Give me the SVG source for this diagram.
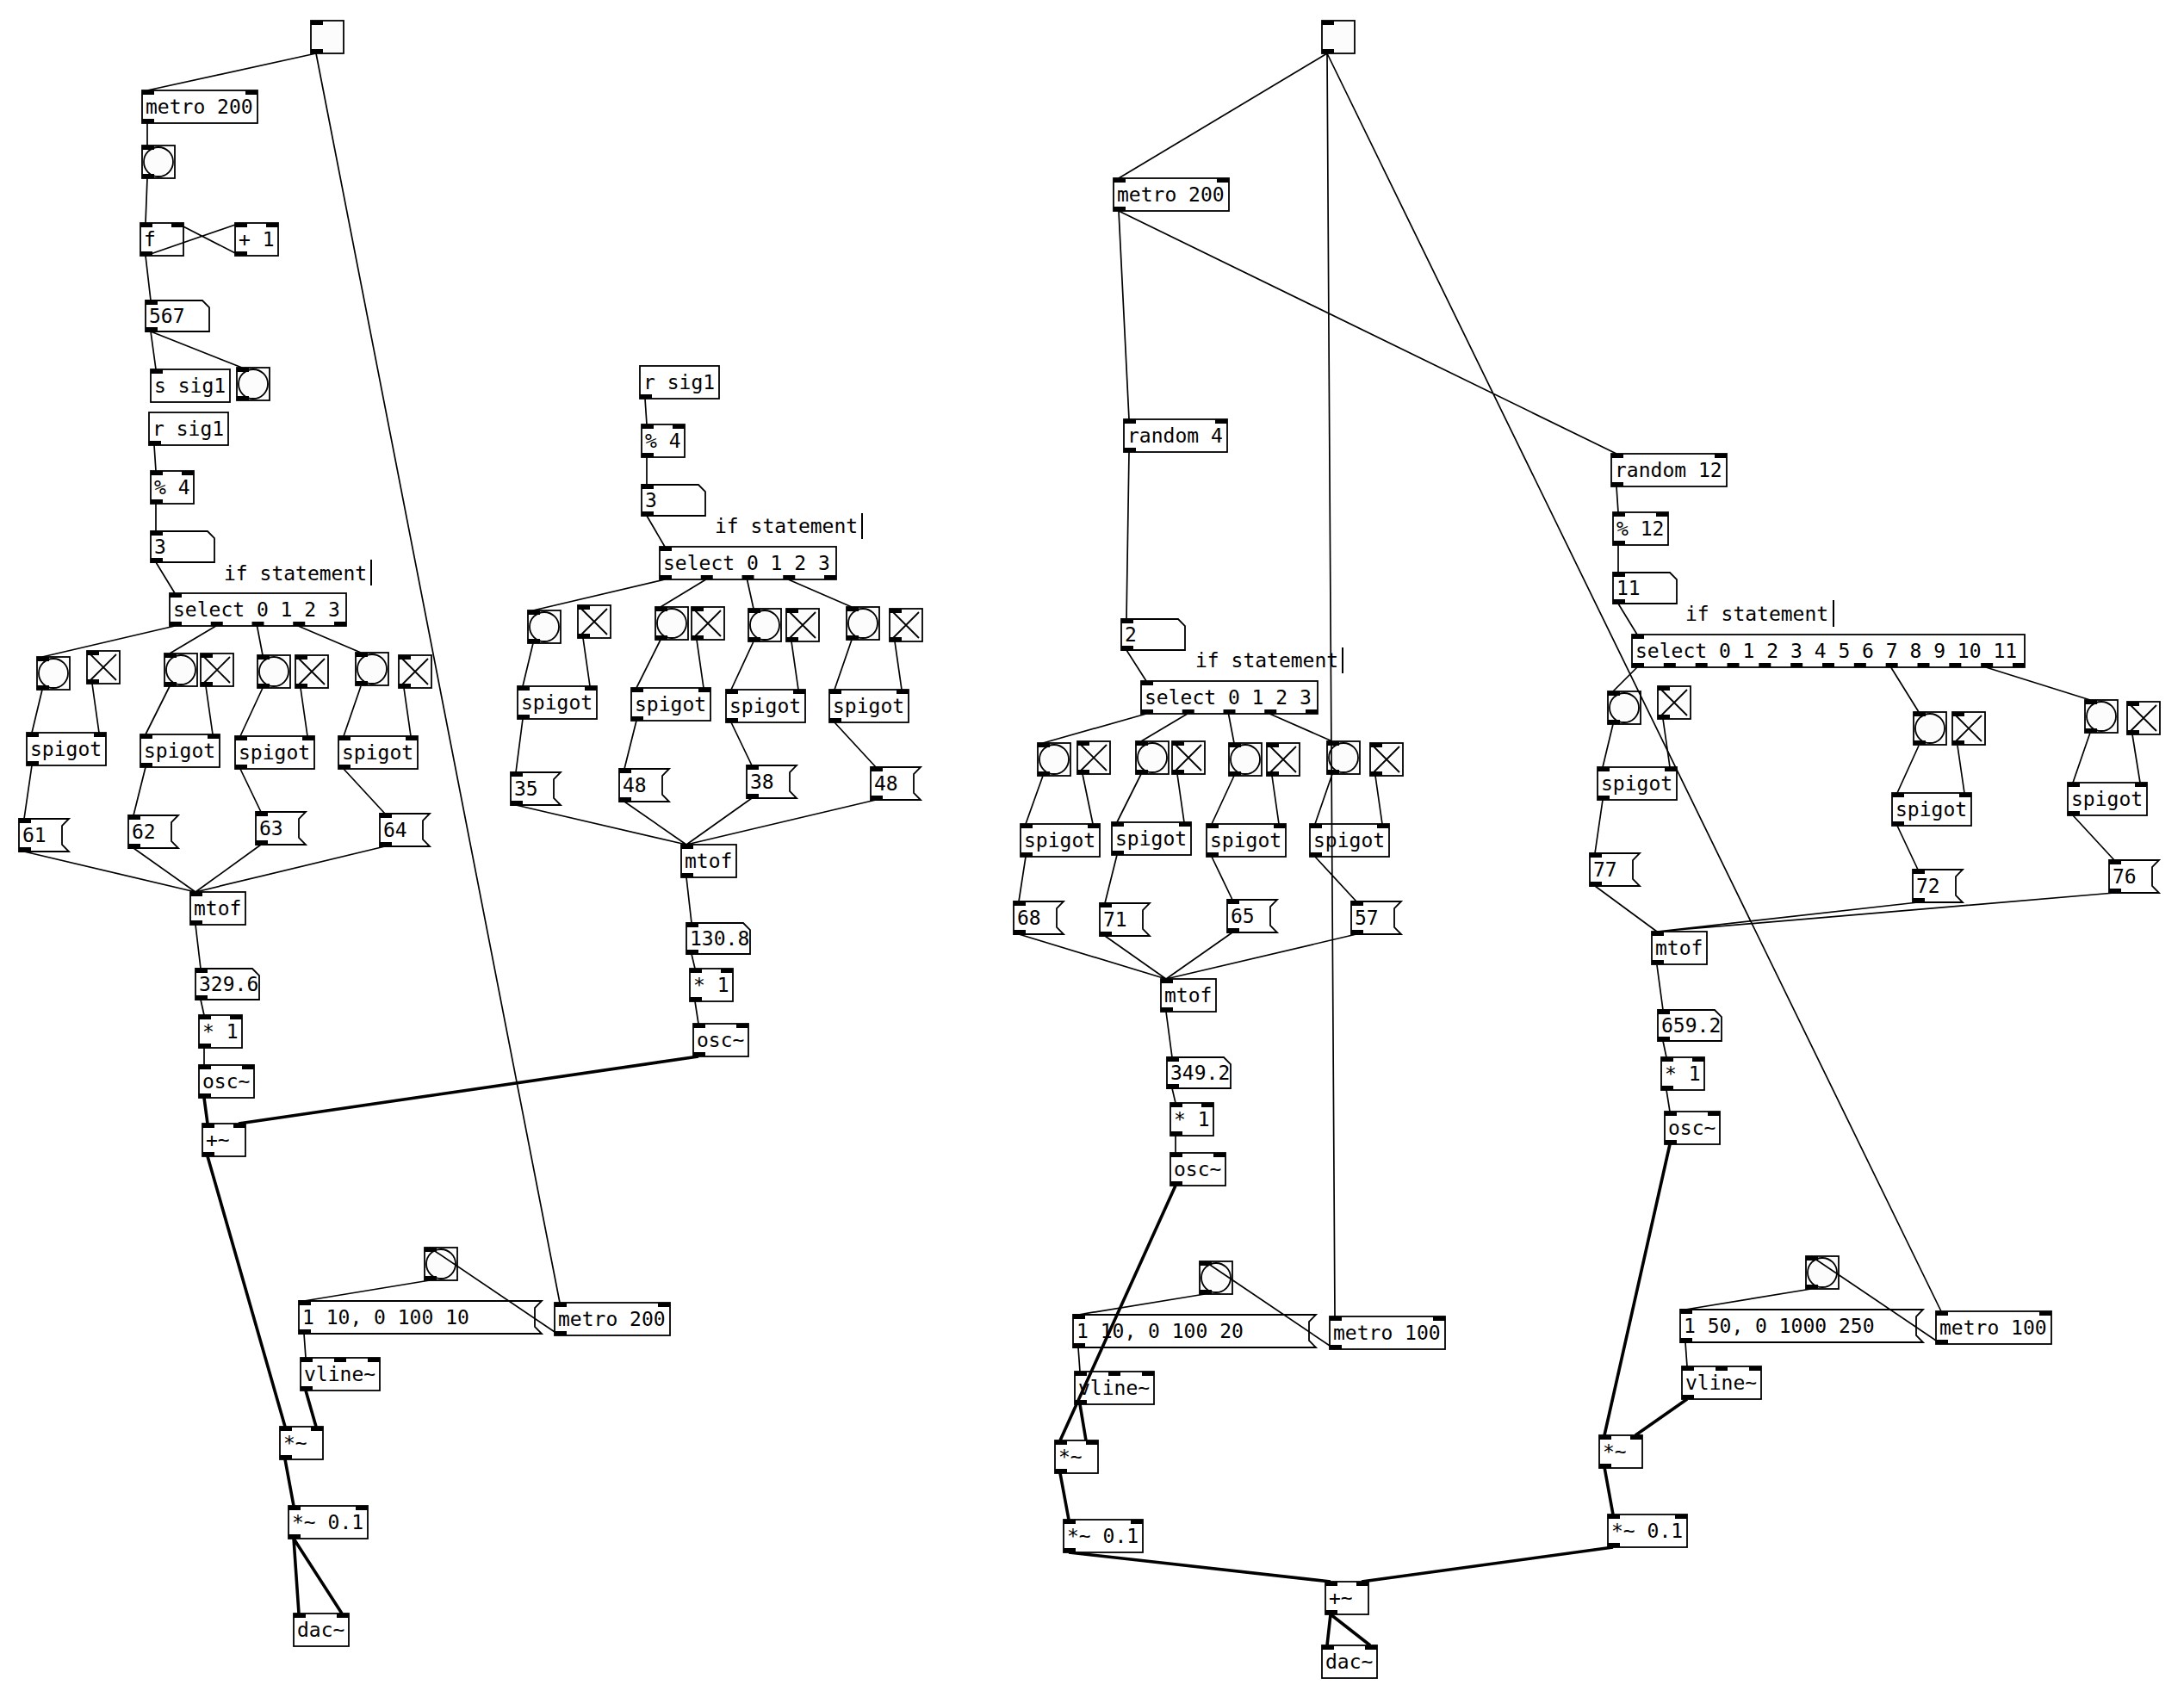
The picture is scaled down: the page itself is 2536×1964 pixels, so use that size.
<svg xmlns="http://www.w3.org/2000/svg" width="2536" height="1964" viewBox="0 0 2536 1964">
<style>
.b{fill:#fff;stroke:#000;stroke-width:1.8}
.g{fill:#fcfcfc;stroke:#000;stroke-width:1.8}
.io{fill:#000}
.t{font-family:"DejaVu Sans Mono","Liberation Mono",monospace;font-size:23px;fill:#000}
.w{fill:none;stroke:#000;stroke-width:1.7}
.sg{fill:none;stroke:#000;stroke-width:3.6}
.bar{stroke:#000;stroke-width:2}
</style>
<defs>
<rect id="io" class="io" width="14" height="5"/>
<g id="bng"><rect class="g" width="38" height="38"/><circle class="g" cx="19" cy="19" r="17"/><use href="#io"/><use href="#io" y="33"/></g>
<g id="tgl"><rect class="g" width="38" height="38"/><path d="M4,4L34,34M34,4L4,34" stroke="#000" stroke-width="1.8"/><use href="#io"/><use href="#io" y="33"/></g>
<g id="tgl0"><rect class="g" width="38" height="38"/><use href="#io"/><use href="#io" y="33"/></g>
<g id="atom"><path class="b" d="M0,0H66L74,8V36H0Z"/><use href="#io"/><use href="#io" y="31"/></g>
<g id="msgS"><path class="b" d="M0,0H58L50,8V30L58,38H0Z"/><use href="#io"/><use href="#io" y="33"/></g>
<g id="msgL"><path class="b" d="M0,0H282L274,8V30L282,38H0Z"/><use href="#io"/><use href="#io" y="33"/></g>
<g id="spig"><rect class="b" width="92" height="38"/><use href="#io"/><use href="#io" x="78"/><use href="#io" y="33"/><text class="t" x="4" y="27">spigot</text></g>
</defs>

<!-- ===== Section A ===== -->
<g id="toggle_a_top"><use href="#tgl0" x="361" y="24"/></g>
<g id="metro_a" transform="translate(165,105)"><rect class="b" width="134" height="38"/><use href="#io"/><use href="#io" x="120"/><use href="#io" y="33"/><text class="t" x="4" y="27">metro 200</text></g>
<g id="bang_a0"><use href="#bng" x="165" y="169"/></g>
<g id="f_a" transform="translate(163,259)"><rect class="b" width="50" height="38"/><use href="#io"/><use href="#io" x="36"/><use href="#io" y="33"/><text class="t" x="4" y="27">f</text></g>
<g id="plus_a" transform="translate(273,259)"><rect class="b" width="50" height="38"/><use href="#io"/><use href="#io" x="36"/><use href="#io" y="33"/><text class="t" x="4" y="27">+ 1</text></g>
<g id="num_a567" transform="translate(169,349)"><use href="#atom"/><text class="t" x="4" y="26">567</text></g>
<g id="send_a" transform="translate(175,429)"><rect class="b" width="92" height="38"/><use href="#io"/><text class="t" x="4" y="27">s sig1</text></g>
<g id="bang_as"><use href="#bng" x="275" y="427"/></g>
<g id="recv_a" transform="translate(173,479)"><rect class="b" width="92" height="38"/><use href="#io" y="33"/><text class="t" x="4" y="27">r sig1</text></g>
<g id="mod_a" transform="translate(175,547)"><rect class="b" width="50" height="38"/><use href="#io"/><use href="#io" x="36"/><use href="#io" y="33"/><text class="t" x="4" y="27">% 4</text></g>
<g id="num_a3" transform="translate(175,617)"><use href="#atom"/><text class="t" x="4" y="26">3</text></g>
<g id="comment_a"><text class="t" x="260" y="674">if statement</text><line class="bar" x1="431" y1="650" x2="431" y2="680"/></g>
<g id="sel_a" transform="translate(197,689)"><rect class="b" width="205" height="38"/><use href="#io"/><use href="#io" y="33"/><use href="#io" x="47.75" y="33"/><use href="#io" x="95.5" y="33"/><use href="#io" x="143.25" y="33"/><use href="#io" x="191" y="33"/><text class="t" x="4" y="27">select 0 1 2 3</text></g>
<g id="bang_a1"><use href="#bng" x="43" y="763"/></g>
<g id="tgl_a1"><use href="#tgl" x="101" y="756"/></g>
<g id="bang_a2"><use href="#bng" x="191" y="759"/></g>
<g id="tgl_a2"><use href="#tgl" x="233" y="759"/></g>
<g id="bang_a3"><use href="#bng" x="299" y="761"/></g>
<g id="tgl_a3"><use href="#tgl" x="343" y="761"/></g>
<g id="bang_a4"><use href="#bng" x="413" y="758"/></g>
<g id="tgl_a4"><use href="#tgl" x="463" y="761"/></g>
<g id="spig_a1"><use href="#spig" x="31" y="851"/></g>
<g id="spig_a2"><use href="#spig" x="163" y="853"/></g>
<g id="spig_a3"><use href="#spig" x="273" y="855"/></g>
<g id="spig_a4"><use href="#spig" x="393" y="855"/></g>
<g id="msg_a61" transform="translate(22,951)"><use href="#msgS"/><text class="t" x="4" y="27">61</text></g>
<g id="msg_a62" transform="translate(149,947)"><use href="#msgS"/><text class="t" x="4" y="27">62</text></g>
<g id="msg_a63" transform="translate(297,943)"><use href="#msgS"/><text class="t" x="4" y="27">63</text></g>
<g id="msg_a64" transform="translate(441,945)"><use href="#msgS"/><text class="t" x="4" y="27">64</text></g>
<g id="mtof_a" transform="translate(221,1036)"><rect class="b" width="64" height="38"/><use href="#io"/><use href="#io" y="33"/><text class="t" x="4" y="27">mtof</text></g>
<g id="num_a329" transform="translate(227,1125)"><use href="#atom"/><text class="t" x="4" y="26">329.6</text></g>
<g id="mul_a" transform="translate(231,1179)"><rect class="b" width="50" height="38"/><use href="#io"/><use href="#io" x="36"/><use href="#io" y="33"/><text class="t" x="4" y="27">* 1</text></g>
<g id="osc_a" transform="translate(231,1237)"><rect class="b" width="64" height="38"/><use href="#io"/><use href="#io" x="50"/><use href="#io" y="33"/><text class="t" x="4" y="27">osc~</text></g>
<g id="add_a" transform="translate(235,1305)"><rect class="b" width="50" height="38"/><use href="#io"/><use href="#io" x="36"/><use href="#io" y="33"/><text class="t" x="4" y="27">+~</text></g>
<g id="bang_ab"><use href="#bng" x="493" y="1449"/></g>
<g id="msg_aenv" transform="translate(347,1511)"><use href="#msgL"/><text class="t" x="4" y="27">1 10, 0 100 10</text></g>
<g id="metro_ab" transform="translate(644,1513)"><rect class="b" width="134" height="38"/><use href="#io"/><use href="#io" x="120"/><use href="#io" y="33"/><text class="t" x="4" y="27">metro 200</text></g>
<g id="vline_a" transform="translate(349,1577)"><rect class="b" width="92" height="38"/><use href="#io"/><use href="#io" x="39"/><use href="#io" x="78"/><use href="#io" y="33"/><text class="t" x="4" y="27">vline~</text></g>
<g id="mulsig_a" transform="translate(325,1657)"><rect class="b" width="50" height="38"/><use href="#io"/><use href="#io" x="36"/><use href="#io" y="33"/><text class="t" x="4" y="27">*~</text></g>
<g id="mul01_a" transform="translate(335,1749)"><rect class="b" width="92" height="38"/><use href="#io"/><use href="#io" x="78"/><use href="#io" y="33"/><text class="t" x="4" y="27">*~ 0.1</text></g>
<g id="dac_a" transform="translate(341,1874)"><rect class="b" width="64" height="38"/><use href="#io"/><use href="#io" x="50"/><text class="t" x="4" y="27">dac~</text></g>

<!-- ===== Section B ===== -->
<g id="recv_b" transform="translate(743,425)"><rect class="b" width="92" height="38"/><use href="#io" y="33"/><text class="t" x="4" y="27">r sig1</text></g>
<g id="mod_b" transform="translate(745,493)"><rect class="b" width="50" height="38"/><use href="#io"/><use href="#io" x="36"/><use href="#io" y="33"/><text class="t" x="4" y="27">% 4</text></g>
<g id="num_b3" transform="translate(745,563)"><use href="#atom"/><text class="t" x="4" y="26">3</text></g>
<g id="comment_b"><text class="t" x="830" y="619">if statement</text><line class="bar" x1="1001" y1="596" x2="1001" y2="626"/></g>
<g id="sel_b" transform="translate(766,635)"><rect class="b" width="205" height="38"/><use href="#io"/><use href="#io" y="33"/><use href="#io" x="47.75" y="33"/><use href="#io" x="95.5" y="33"/><use href="#io" x="143.25" y="33"/><use href="#io" x="191" y="33"/><text class="t" x="4" y="27">select 0 1 2 3</text></g>
<g id="bang_b1"><use href="#bng" x="613" y="709"/></g>
<g id="tgl_b1"><use href="#tgl" x="671" y="703"/></g>
<g id="bang_b2"><use href="#bng" x="761" y="705"/></g>
<g id="tgl_b2"><use href="#tgl" x="803" y="705"/></g>
<g id="bang_b3"><use href="#bng" x="869" y="707"/></g>
<g id="tgl_b3"><use href="#tgl" x="913" y="707"/></g>
<g id="bang_b4"><use href="#bng" x="983" y="705"/></g>
<g id="tgl_b4"><use href="#tgl" x="1033" y="707"/></g>
<g id="spig_b1"><use href="#spig" x="601" y="797"/></g>
<g id="spig_b2"><use href="#spig" x="733" y="799"/></g>
<g id="spig_b3"><use href="#spig" x="843" y="801"/></g>
<g id="spig_b4"><use href="#spig" x="963" y="801"/></g>
<g id="msg_b35" transform="translate(593,897)"><use href="#msgS"/><text class="t" x="4" y="27">35</text></g>
<g id="msg_b48" transform="translate(719,893)"><use href="#msgS"/><text class="t" x="4" y="27">48</text></g>
<g id="msg_b38" transform="translate(867,889)"><use href="#msgS"/><text class="t" x="4" y="27">38</text></g>
<g id="msg_b48b" transform="translate(1011,891)"><use href="#msgS"/><text class="t" x="4" y="27">48</text></g>
<g id="mtof_b" transform="translate(791,981)"><rect class="b" width="64" height="38"/><use href="#io"/><use href="#io" y="33"/><text class="t" x="4" y="27">mtof</text></g>
<g id="num_b130" transform="translate(797,1072)"><use href="#atom"/><text class="t" x="4" y="26">130.8</text></g>
<g id="mul_b" transform="translate(801,1125)"><rect class="b" width="50" height="38"/><use href="#io"/><use href="#io" x="36"/><use href="#io" y="33"/><text class="t" x="4" y="27">* 1</text></g>
<g id="osc_b" transform="translate(805,1189)"><rect class="b" width="64" height="38"/><use href="#io"/><use href="#io" x="50"/><use href="#io" y="33"/><text class="t" x="4" y="27">osc~</text></g>

<!-- ===== Section C ===== -->
<g id="toggle_c_top"><use href="#tgl0" x="1535" y="24"/></g>
<g id="metro_c" transform="translate(1293,207)"><rect class="b" width="134" height="38"/><use href="#io"/><use href="#io" x="120"/><use href="#io" y="33"/><text class="t" x="4" y="27">metro 200</text></g>
<g id="random_4" transform="translate(1305,487)"><rect class="b" width="120" height="38"/><use href="#io"/><use href="#io" x="106"/><use href="#io" y="33"/><text class="t" x="4" y="27">random 4</text></g>
<g id="num_c2" transform="translate(1302,719)"><use href="#atom"/><text class="t" x="4" y="26">2</text></g>
<g id="comment_c"><text class="t" x="1388" y="775">if statement</text><line class="bar" x1="1559" y1="752" x2="1559" y2="782"/></g>
<g id="sel_c" transform="translate(1325,791)"><rect class="b" width="205" height="38"/><use href="#io"/><use href="#io" y="33"/><use href="#io" x="47.75" y="33"/><use href="#io" x="95.5" y="33"/><use href="#io" x="143.25" y="33"/><use href="#io" x="191" y="33"/><text class="t" x="4" y="27">select 0 1 2 3</text></g>
<g id="bang_c1"><use href="#bng" x="1205" y="863"/></g>
<g id="tgl_c1"><use href="#tgl" x="1251" y="861"/></g>
<g id="bang_c2"><use href="#bng" x="1319" y="861"/></g>
<g id="tgl_c2"><use href="#tgl" x="1361" y="861"/></g>
<g id="bang_c3"><use href="#bng" x="1427" y="863"/></g>
<g id="tgl_c3"><use href="#tgl" x="1471" y="863"/></g>
<g id="bang_c4"><use href="#bng" x="1541" y="861"/></g>
<g id="tgl_c4"><use href="#tgl" x="1591" y="863"/></g>
<g id="spig_c1"><use href="#spig" x="1185" y="957"/></g>
<g id="spig_c2"><use href="#spig" x="1291" y="955"/></g>
<g id="spig_c3"><use href="#spig" x="1401" y="957"/></g>
<g id="spig_c4"><use href="#spig" x="1521" y="957"/></g>
<g id="msg_c68" transform="translate(1177,1047)"><use href="#msgS"/><text class="t" x="4" y="27">68</text></g>
<g id="msg_c71" transform="translate(1277,1049)"><use href="#msgS"/><text class="t" x="4" y="27">71</text></g>
<g id="msg_c65" transform="translate(1425,1045)"><use href="#msgS"/><text class="t" x="4" y="27">65</text></g>
<g id="msg_c57" transform="translate(1569,1047)"><use href="#msgS"/><text class="t" x="4" y="27">57</text></g>
<g id="mtof_c" transform="translate(1348,1137)"><rect class="b" width="64" height="38"/><use href="#io"/><use href="#io" y="33"/><text class="t" x="4" y="27">mtof</text></g>
<g id="num_c349" transform="translate(1355,1228)"><use href="#atom"/><text class="t" x="4" y="26">349.2</text></g>
<g id="mul_c" transform="translate(1359,1281)"><rect class="b" width="50" height="38"/><use href="#io"/><use href="#io" x="36"/><use href="#io" y="33"/><text class="t" x="4" y="27">* 1</text></g>
<g id="osc_c" transform="translate(1359,1339)"><rect class="b" width="64" height="38"/><use href="#io"/><use href="#io" x="50"/><use href="#io" y="33"/><text class="t" x="4" y="27">osc~</text></g>
<g id="bang_cb"><use href="#bng" x="1393" y="1465"/></g>
<g id="msg_cenv" transform="translate(1246,1527)"><use href="#msgL"/><text class="t" x="4" y="27">1 10, 0 100 20</text></g>
<g id="metro_cb" transform="translate(1544,1529)"><rect class="b" width="134" height="38"/><use href="#io"/><use href="#io" x="120"/><use href="#io" y="33"/><text class="t" x="4" y="27">metro 100</text></g>
<g id="vline_c" transform="translate(1248,1593)"><rect class="b" width="92" height="38"/><use href="#io"/><use href="#io" x="39"/><use href="#io" x="78"/><use href="#io" y="33"/><text class="t" x="4" y="27">vline~</text></g>
<g id="mulsig_c" transform="translate(1225,1673)"><rect class="b" width="50" height="38"/><use href="#io"/><use href="#io" x="36"/><use href="#io" y="33"/><text class="t" x="4" y="27">*~</text></g>
<g id="mul01_c" transform="translate(1235,1765)"><rect class="b" width="92" height="38"/><use href="#io"/><use href="#io" x="78"/><use href="#io" y="33"/><text class="t" x="4" y="27">*~ 0.1</text></g>
<g id="add_c" transform="translate(1539,1837)"><rect class="b" width="50" height="38"/><use href="#io"/><use href="#io" x="36"/><use href="#io" y="33"/><text class="t" x="4" y="27">+~</text></g>
<g id="dac_c" transform="translate(1535,1911)"><rect class="b" width="64" height="38"/><use href="#io"/><use href="#io" x="50"/><text class="t" x="4" y="27">dac~</text></g>

<!-- ===== Section D ===== -->
<g id="random_12" transform="translate(1871,527)"><rect class="b" width="134" height="38"/><use href="#io"/><use href="#io" x="120"/><use href="#io" y="33"/><text class="t" x="4" y="27">random 12</text></g>
<g id="mod_12" transform="translate(1873,595)"><rect class="b" width="64" height="38"/><use href="#io"/><use href="#io" x="50"/><use href="#io" y="33"/><text class="t" x="4" y="27">% 12</text></g>
<g id="num_d11" transform="translate(1873,665)"><use href="#atom"/><text class="t" x="4" y="26">11</text></g>
<g id="comment_d"><text class="t" x="1957" y="721">if statement</text><line class="bar" x1="2129" y1="697" x2="2129" y2="728"/></g>
<g id="sel_d" transform="translate(1895,737)"><rect class="b" width="456" height="38"/><use href="#io"/><use href="#io" y="33"/><use href="#io" x="36.83" y="33"/><use href="#io" x="73.67" y="33"/><use href="#io" x="110.5" y="33"/><use href="#io" x="147.33" y="33"/><use href="#io" x="184.17" y="33"/><use href="#io" x="221" y="33"/><use href="#io" x="257.83" y="33"/><use href="#io" x="294.67" y="33"/><use href="#io" x="331.5" y="33"/><use href="#io" x="368.33" y="33"/><use href="#io" x="405.17" y="33"/><use href="#io" x="442" y="33"/><text class="t" x="4" y="27">select 0 1 2 3 4 5 6 7 8 9 10 11</text></g>
<g id="bang_d1"><use href="#bng" x="1867" y="803"/></g>
<g id="tgl_d1"><use href="#tgl" x="1925" y="797"/></g>
<g id="spig_d1"><use href="#spig" x="1855" y="891"/></g>
<g id="msg_d77" transform="translate(1846,991)"><use href="#msgS"/><text class="t" x="4" y="27">77</text></g>
<g id="bang_d2"><use href="#bng" x="2222" y="827"/></g>
<g id="tgl_d2"><use href="#tgl" x="2267" y="827"/></g>
<g id="spig_d2"><use href="#spig" x="2197" y="921"/></g>
<g id="msg_d72" transform="translate(2221,1010)"><use href="#msgS"/><text class="t" x="4" y="27">72</text></g>
<g id="bang_d3"><use href="#bng" x="2421" y="813"/></g>
<g id="tgl_d3"><use href="#tgl" x="2470" y="815"/></g>
<g id="spig_d3"><use href="#spig" x="2401" y="909"/></g>
<g id="msg_d76" transform="translate(2449,999)"><use href="#msgS"/><text class="t" x="4" y="27">76</text></g>
<g id="mtof_d" transform="translate(1918,1082)"><rect class="b" width="64" height="38"/><use href="#io"/><use href="#io" y="33"/><text class="t" x="4" y="27">mtof</text></g>
<g id="num_d659" transform="translate(1925,1173)"><use href="#atom"/><text class="t" x="4" y="26">659.2</text></g>
<g id="mul_d" transform="translate(1929,1228)"><rect class="b" width="50" height="38"/><use href="#io"/><use href="#io" x="36"/><use href="#io" y="33"/><text class="t" x="4" y="27">* 1</text></g>
<g id="osc_d" transform="translate(1933,1291)"><rect class="b" width="64" height="38"/><use href="#io"/><use href="#io" x="50"/><use href="#io" y="33"/><text class="t" x="4" y="27">osc~</text></g>
<g id="bang_db"><use href="#bng" x="2097" y="1459"/></g>
<g id="msg_denv" transform="translate(1951,1521)"><use href="#msgL"/><text class="t" x="4" y="27">1 50, 0 1000 250</text></g>
<g id="metro_db" transform="translate(2248,1523)"><rect class="b" width="134" height="38"/><use href="#io"/><use href="#io" x="120"/><use href="#io" y="33"/><text class="t" x="4" y="27">metro 100</text></g>
<g id="vline_d" transform="translate(1953,1587)"><rect class="b" width="92" height="38"/><use href="#io"/><use href="#io" x="39"/><use href="#io" x="78"/><use href="#io" y="33"/><text class="t" x="4" y="27">vline~</text></g>
<g id="mulsig_d" transform="translate(1857,1667)"><rect class="b" width="50" height="38"/><use href="#io"/><use href="#io" x="36"/><use href="#io" y="33"/><text class="t" x="4" y="27">*~</text></g>
<g id="mul01_d" transform="translate(1867,1759)"><rect class="b" width="92" height="38"/><use href="#io"/><use href="#io" x="78"/><use href="#io" y="33"/><text class="t" x="4" y="27">*~ 0.1</text></g>

<!-- ===== Connectors ===== -->
<g id="connectors">
<path class="w" d="M367,62L171,105M367,62L650,1513M171,143L171,169M171,207L169,259M169,297L279,259M279,297L205,259M169,297L175,349M175,385L181,429M175,385L281,427M179,517L181,547M181,585L181,617M181,653L203,689M203,727L49,763M250.75,727L197,759M298.5,727L305,761M346.25,727L419,758M49,801L37,851M107,794L115,851M197,797L169,853M239,797L247,853M305,799L279,855M349,799L357,855M419,797L399,855M469,799L477,855M37,889L28,951M169,891L155,947M279,893L303,943M399,893L447,945M28,989L227,1036M155,985L227,1036M303,981L227,1036M447,983L227,1036M227,1074L233,1125M233,1161L237,1179M237,1217L237,1237M650,1551L499,1449M499,1487L353,1511M353,1549L355,1577"/>
<path class="sg" d="M237,1275L241,1305M811,1227L277,1305M241,1343L331,1657M355,1615L367,1657M331,1695L341,1749M341,1787L347,1874M341,1787L397,1874"/>
<path class="w" d="M749,463L751,493M751,531L751,563M751,599L772,635M772,673L619,709M819.75,673L767,705M867.5,673L875,707M915.25,673L989,705M619,747L607,797M677,741L685,797M767,743L739,799M809,743L817,799M875,745L849,801M919,745L927,801M989,743L969,801M1039,745L1047,801M607,835L599,897M739,837L725,893M849,839L873,889M969,839L1017,891M599,935L797,981M725,931L797,981M873,927L797,981M1017,929L797,981M797,1019L803,1072M803,1108L807,1125M807,1163L811,1189"/>
<path class="w" d="M1541,62L1299,207M1541,62L1550,1529M1541,62L2254,1523M1299,245L1311,487M1299,245L1877,527M1311,525L1308,719M1308,755L1331,791M1331,829L1211,863M1378.75,829L1325,861M1426.5,829L1433,863M1474.25,829L1547,861M1211,901L1191,957M1257,899L1269,957M1325,899L1297,955M1367,899L1375,955M1433,901L1407,957M1477,901L1485,957M1547,899L1527,957M1597,901L1605,957M1191,995L1183,1047M1297,993L1283,1049M1407,995L1431,1045M1527,995L1575,1047M1183,1085L1354,1137M1283,1087L1354,1137M1431,1083L1354,1137M1575,1085L1354,1137M1354,1175L1361,1228M1361,1264L1365,1281M1365,1319L1365,1339M1550,1567L1399,1465M1399,1503L1252,1527M1252,1565L1254,1593"/>
<path class="sg" d="M1365,1377L1231,1673M1254,1631L1261,1673M1231,1711L1241,1765M1241,1803L1545,1837M1873,1797L1581,1837M1545,1875L1541,1911M1545,1875L1591,1911"/>
<path class="w" d="M1877,565L1879,595M1879,633L1879,665M1879,701L1901,737M1901,775L1873,803M2195.7,775L2228,827M2306,775L2427,813M1873,841L1861,891M1931,835L1939,891M2228,866L2203,921M2273,866L2281,921M2427,851L2407,909M2476,853L2485,909M1861,929L1852,991M2203,959L2227,1010M2407,947L2455,999M1852,1029L1924,1082M2227,1048L1924,1082M2455,1037L1924,1082M1924,1121L1931,1173M1931,1209L1935,1228M1935,1266L1939,1291M2254,1561L2103,1459M2103,1497L1957,1521M1957,1559L1959,1587"/>
<path class="sg" d="M1939,1329L1863,1667M1959,1625L1899,1667M1863,1704L1873,1759"/>
</g>
</svg>
